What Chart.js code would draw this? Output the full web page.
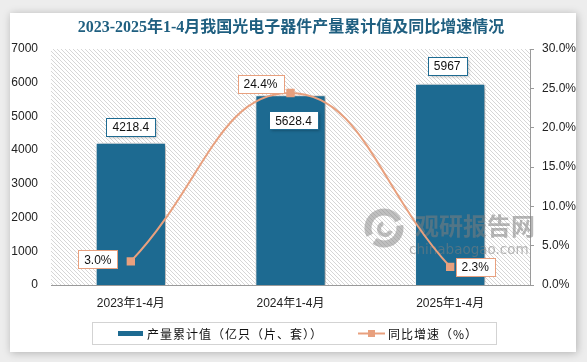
<!DOCTYPE html>
<html><head><meta charset="utf-8">
<script src="https://cdn.jsdelivr.net/npm/chart.js@4.4.1/dist/chart.umd.min.js"></script>
<style>
html,body{margin:0;padding:0;background:#ededed;}
#wrap{width:587px;height:362px;position:relative;}
</style></head>
<body><div id="wrap"><canvas id="c" width="587" height="362"></canvas></div>
<script>
const categories = ['2023年1-4月', '2024年1-4月', '2025年1-4月'];
const outputValues = [4218.4, 5628.4, 5967];
const growthRates = [3.0, 24.4, 2.3];
const leftTicks = [0, 1000, 2000, 3000, 4000, 5000, 6000, 7000];
const rightTicks = [0, 5, 10, 15, 20, 25, 30];
const seriesNames = ['产量累计值（亿只（片、套））', '同比增速（%）'];
const titleText = '2023-2025年1-4月我国光电子器件产量累计值及同比增速情况';

const BAR = '#1d6a91';
const LINE = '#e8a07e';
const FONT = '"Liberation Sans", "Noto Sans CJK SC", sans-serif';

// label placement (offsets relative to the element), styling only
const barLabelPlace = [{dx:0, dy:-16}, {dx:3, dy:25}, {dx:-3, dy:-18}];
const lineLabelPlace = [{dx:-33, dy:-2}, {dx:-30, dy:-9}, {dx:25, dy:0}];

const pat = document.createElement('canvas');
pat.width = 4; pat.height = 4;
const pc = pat.getContext('2d');
pc.fillStyle = '#ffffff'; pc.fillRect(0,0,4,4);
pc.strokeStyle = '#d6d6d6'; pc.lineWidth = 1;
pc.beginPath(); pc.moveTo(-1,-1); pc.lineTo(5,5); pc.stroke();
pc.beginPath(); pc.moveTo(3,-1); pc.lineTo(5,1); pc.stroke();
pc.beginPath(); pc.moveTo(-1,3); pc.lineTo(1,5); pc.stroke();

function box(ctx, text, cx, cy, border, shadow) {
  ctx.save();
  ctx.font = '12px ' + FONT;
  const w = Math.round(ctx.measureText(text).width + 12);
  const h = 18;
  const x = Math.round(cx - w/2) + 0.5, y = Math.round(cy - h/2) + 0.5;
  if (shadow) {
    ctx.shadowColor = 'rgba(0,0,0,0.3)'; ctx.shadowBlur = 3; ctx.shadowOffsetX = 1; ctx.shadowOffsetY = 1;
  }
  ctx.fillStyle = '#fff';
  ctx.fillRect(x, y, w, h);
  ctx.shadowColor = 'transparent';
  ctx.strokeStyle = border; ctx.lineWidth = 1;
  ctx.strokeRect(x, y, w, h);
  ctx.fillStyle = '#111';
  ctx.textAlign = 'center'; ctx.textBaseline = 'middle';
  ctx.fillText(text, cx, cy + 1);
  ctx.restore();
}

function watermark(ctx) {
  ctx.save();
  ctx.globalAlpha = 0.55;
  ctx.strokeStyle = '#8a8a8a'; ctx.lineWidth = 7;
  ctx.beginPath(); ctx.arc(384, 228, 16, Math.PI*0.85, Math.PI*1.85); ctx.stroke();
  ctx.beginPath(); ctx.arc(384, 228, 16, Math.PI*1.95, Math.PI*0.7); ctx.stroke();
  ctx.lineWidth = 4;
  ctx.beginPath(); ctx.arc(385, 229, 6, Math.PI*0.1, Math.PI*1.4); ctx.stroke();
  ctx.fillStyle = '#7d7d7d';
  ctx.font = 'bold 24px "Noto Sans CJK SC", sans-serif';
  ctx.textBaseline = 'middle';
  ctx.fillText('观研报告网', 415, 226);
  ctx.font = '13.5px "DejaVu Sans", sans-serif';
  ctx.fillText('chinabaogao.com', 409, 250);
  ctx.restore();
}

const deco = {
  id: 'deco',
  beforeDraw(chart) {
    const ctx = chart.ctx;
    ctx.save();
    ctx.fillStyle = '#ededed'; ctx.fillRect(0,0,chart.width,chart.height);
    ctx.shadowColor = 'rgba(0,0,0,0.25)'; ctx.shadowBlur = 8; ctx.shadowOffsetX = 1; ctx.shadowOffsetY = 1;
    ctx.fillStyle = '#fff'; ctx.fillRect(10, 13, 566, 339);
    ctx.restore();
    ctx.save();
    ctx.font = 'bold 16px "Liberation Serif", "Noto Sans CJK SC", serif';
    ctx.fillStyle = '#1f5f80'; ctx.textAlign = 'center'; ctx.textBaseline = 'middle';
    ctx.fillText(titleText, 291, 28);
    ctx.restore();
    const a = chart.chartArea;
    ctx.save();
    ctx.fillStyle = ctx.createPattern(pat, 'repeat');
    ctx.fillRect(a.left, a.top, a.right - a.left, a.bottom - a.top);
    ctx.restore();
  },
  beforeDatasetDraw(chart, args) {
    if (args.meta.type === 'bar') {
      const ctx = chart.ctx;
      ctx.save();
      ctx.shadowColor = 'rgba(0,0,0,0.45)'; ctx.shadowBlur = 5; ctx.shadowOffsetX = 2; ctx.shadowOffsetY = 1;
    }
  },
  afterDatasetDraw(chart, args) {
    if (args.meta.type === 'bar') {
      chart.ctx.restore();
      watermark(chart.ctx);
    }
  },
  afterDatasetsDraw(chart) {
    const ctx = chart.ctx;
    const barMeta = chart.getDatasetMeta(1);
    barMeta.data.forEach((el, i) => {
      const p = barLabelPlace[i];
      box(ctx, String(outputValues[i]), el.x + p.dx, el.y + p.dy, BAR, true);
    });
    const lineMeta = chart.getDatasetMeta(0);
    lineMeta.data.forEach((el, i) => {
      const p = lineLabelPlace[i];
      box(ctx, growthRates[i].toFixed(1) + '%', el.x + p.dx, el.y + p.dy, LINE, false);
    });
  },
  afterDraw(chart) {
    const ctx = chart.ctx;
    ctx.save();
    ctx.strokeStyle = '#d3d3d3'; ctx.lineWidth = 1;
    ctx.strokeRect(92.5, 322.5, 404, 22);
    ctx.fillStyle = BAR; ctx.fillRect(118, 331, 25, 5);
    ctx.font = '12px "Noto Sans CJK SC", sans-serif'; ctx.fillStyle = '#111'; ctx.textBaseline = 'middle';
    ctx.letterSpacing = '1px';
    ctx.fillText(seriesNames[0], 147, 334);
    ctx.strokeStyle = LINE; ctx.lineWidth = 2;
    ctx.beginPath(); ctx.moveTo(358, 333.5); ctx.lineTo(385, 333.5); ctx.stroke();
    ctx.fillStyle = LINE; ctx.fillRect(368, 330, 7, 7);
    ctx.fillStyle = '#111';
    ctx.fillText(seriesNames[1], 388, 334);
    ctx.restore();
  }
};

new Chart(document.getElementById('c'), {
  data: {
    labels: categories,
    datasets: [
      {
        type: 'line', label: seriesNames[1], data: growthRates, yAxisID: 'y1', order: 0,
        borderColor: LINE, borderWidth: 2, tension: 0.45,
        pointStyle: 'rect', pointRadius: 4.5, pointBackgroundColor: LINE, pointBorderColor: LINE,
        pointHoverRadius: 4.5
      },
      {
        type: 'bar', label: seriesNames[0], data: outputValues, yAxisID: 'y', order: 1,
        backgroundColor: BAR, borderColor: '#ffffff', borderWidth: 1,
        categoryPercentage: 1, barPercentage: 0.44
      }
    ]
  },
  options: {
    responsive: false, animation: false,
    layout: { padding: { top: 49, bottom: 0, left: 0, right: 0 } },
    plugins: { legend: { display: false }, tooltip: { enabled: false }, title: { display: false } },
    scales: {
      x: {
        grid: { display: false, drawTicks: false },
        border: { display: true, color: '#9a9a9a', width: 1 },
        ticks: { color: '#222', font: { size: 12, family: FONT }, padding: 11 },
        afterFit(s) { s.height = 77; }
      },
      y: {
        position: 'left', min: 0, max: 7000,
        afterBuildTicks(s) { s.ticks = leftTicks.map(v => ({ value: v })); },
        grid: { display: false, drawTicks: false },
        border: { display: false },
        ticks: { color: '#222', font: { size: 12, family: FONT }, padding: 13,
          callback: v => String(v) },
        afterFit(s) { s.width = 51; }
      },
      y1: {
        position: 'right', min: 0, max: 30,
        afterBuildTicks(s) { s.ticks = rightTicks.map(v => ({ value: v })); },
        grid: { drawOnChartArea: false, drawTicks: true, tickLength: 4, color: '#9a9a9a' },
        border: { display: true, color: '#9a9a9a', width: 1 },
        ticks: { color: '#222', font: { size: 12, family: FONT }, padding: 8,
          callback: v => Number(v).toFixed(1) + '%' },
        afterFit(s) { s.width = 57; }
      }
    }
  },
  plugins: [deco]
});
</script>
</body></html>
